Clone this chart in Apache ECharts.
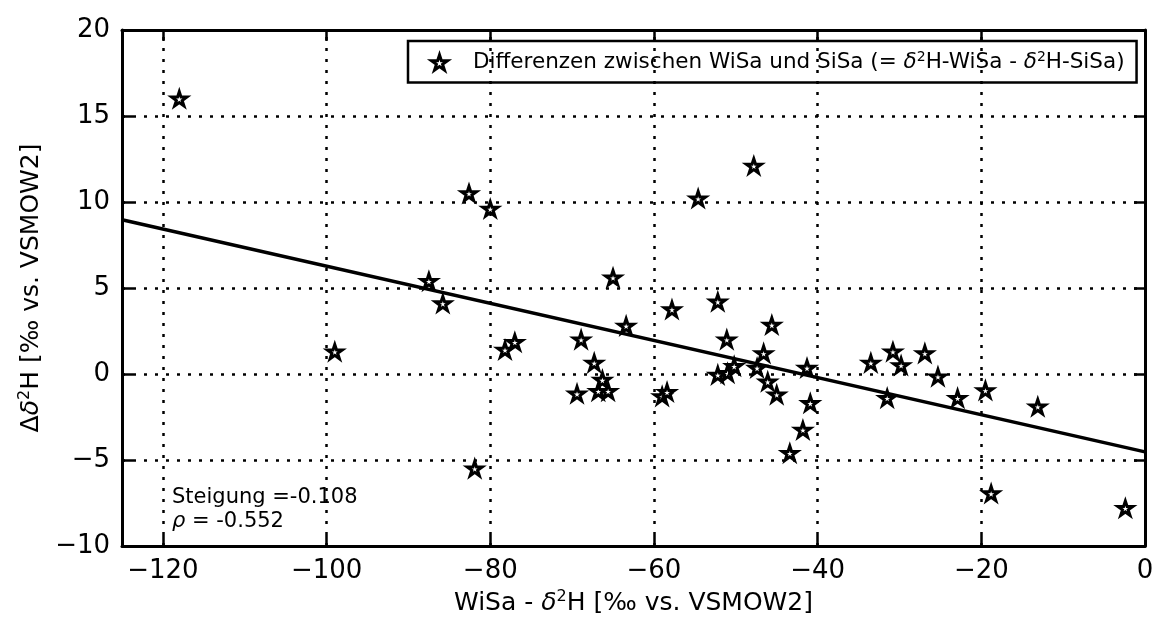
<!DOCTYPE html>
<html>
<head>
<meta charset="utf-8">
<script src="https://cdn.jsdelivr.net/npm/echarts@6/dist/echarts.min.js"></script>
<style>html,body{margin:0;padding:0;background:#fff;}#c{width:1161px;height:622px;}</style>
</head>
<body>
<div id="c"></div>
<script>
// ---- data ----
const wisaD2H = [-118.0,-99.0,-87.5,-85.8,-82.6,-81.9,-80.0,-78.2,-77.0,-69.4,-68.9,-67.3,-66.8,-66.3,-65.6,-65.0,-63.4,-59.0,-58.4,-57.8,-54.6,-52.2,-52.2,-51.1,-51.0,-50.2,-47.8,-47.4,-46.6,-46.1,-45.6,-45.0,-43.4,-41.8,-41.3,-40.9,-33.5,-31.5,-30.8,-29.8,-26.9,-25.3,-22.9,-19.5,-18.8,-13.1,-2.4];
const deltaD2H = [16.0,1.3,5.4,4.1,10.5,-5.5,9.6,1.4,1.85,-1.15,2.0,0.65,-1.0,-0.35,-1.0,5.6,2.8,-1.3,-1.05,3.75,10.2,4.2,-0.05,2.0,0.05,0.45,12.1,0.35,1.2,-0.45,2.85,-1.2,-4.6,-3.25,0.35,-1.7,0.65,-1.4,1.3,0.5,1.2,-0.15,-1.4,-0.95,-6.95,-1.9,-7.8];
const xTicks = [-120,-100,-80,-60,-40,-20,0];
const yTicks = [-10,-5,0,5,10,15,20];
const xRange = [-125, 0];
const yRange = [-10, 20];
const fitSlope = -0.108;
const fitIntercept = -4.53;
const rho = -0.552;
const seriesName = 'Differenzen';

const starPath = 'path://M50 0 L38.77 34.55 L2.45 34.55 L31.83 55.9 L20.61 90.45 L50 69.1 L79.39 90.45 L68.17 55.9 L97.55 34.55 L61.23 34.55 Z';
const FONT = 'DejaVu Sans';
const minus = v => String(v).replace('-', '\u2212');

const points = wisaD2H.map((x, i) => [x, deltaD2H[i]]);
const fitLine = xRange.map(x => [x, fitSlope * x + fitIntercept]);

const richCommon = (fs) => ({
  i: {fontStyle: 'italic', fontSize: fs, fontFamily: FONT, color: '#000'},
  sup: {fontSize: Math.round(fs * 0.65), fontFamily: FONT, color: '#000', padding: [0, 0, Math.round(fs * 0.5), 0]},
  n: {fontSize: fs, fontFamily: FONT, color: '#000'}
});

const chart = echarts.init(document.getElementById('c'), null, {renderer: 'canvas'});
chart.setOption({
  animation: false,
  backgroundColor: '#fff',
  grid: {left: 122, right: 16, top: 30, bottom: 76, containLabel: false},
  title: {
    text: 'Steigung =' + fitSlope.toFixed(3) + '\n{i|ρ} = ' + rho.toFixed(3),
    left: 172, top: 486, padding: 0,
    textStyle: {fontSize: 21, fontWeight: 'normal', fontFamily: FONT, color: '#000', lineHeight: 24,
      rich: {i: {fontStyle: 'italic', fontSize: 21, fontFamily: FONT, lineHeight: 24}}}
  },
  legend: {
    left: 408, top: 41,
    padding: [9, 12, 9, 22],
    borderColor: '#000', borderWidth: 2.5, backgroundColor: '#fff',
    itemWidth: 16, itemHeight: 16, itemGap: 10,
    data: [{name: seriesName, icon: starPath}],
    itemStyle: {color: '#fff', borderColor: '#000', borderWidth: 3},
    formatter: () => '   Differenzen zwischen WiSa und SiSa (= {i|δ}{sup|2}H-WiSa - {i|δ}{sup|2}H-SiSa)',
    textStyle: {fontSize: 21.5, fontFamily: FONT, color: '#000', rich: richCommon(21.5)}
  },
  xAxis: [{
    type: 'value', min: xRange[0], max: xRange[1], position: 'bottom',
    name: 'WiSa - {i|δ}{sup|2}H [‰ vs. VSMOW2]', nameLocation: 'middle', nameGap: 26,
    nameTextStyle: {fontSize: 25, fontFamily: FONT, color: '#000', rich: richCommon(25)},
    axisLine: {show: true, onZero: false, lineStyle: {color: '#000', width: 3}},
    axisTick: {show: true, inside: true, length: 11, customValues: xTicks, lineStyle: {color: '#000', width: 2.5}},
    axisLabel: {show: true, customValues: xTicks, margin: 12, fontSize: 26, fontFamily: FONT, color: '#000', formatter: minus},
    splitLine: {show: false}
  }, {
    type: 'value', min: xRange[0], max: xRange[1], position: 'top',
    axisLine: {show: true, onZero: false, lineStyle: {color: '#000', width: 3}},
    axisTick: {show: true, inside: true, length: 11, customValues: xTicks, lineStyle: {color: '#000', width: 2.5}},
    axisLabel: {show: false}, splitLine: {show: false}
  }],
  yAxis: [{
    type: 'value', min: yRange[0], max: yRange[1], interval: 5, position: 'left',
    name: 'Δ{i|δ}{sup|2}H [‰ vs. VSMOW2]', nameLocation: 'middle', nameGap: 70, nameRotate: 90,
    nameTextStyle: {fontSize: 25, fontFamily: FONT, color: '#000', rich: richCommon(25)},
    axisLine: {show: true, onZero: false, lineStyle: {color: '#000', width: 3}},
    axisTick: {show: true, inside: true, length: 11, lineStyle: {color: '#000', width: 2.5}},
    axisLabel: {show: true, margin: 12, fontSize: 26, fontFamily: FONT, color: '#000', formatter: minus},
    splitLine: {show: true, lineStyle: {color: '#000', width: 2.5, type: [3, 8]}}
  }, {
    type: 'value', min: yRange[0], max: yRange[1], interval: 5, position: 'right',
    axisLine: {show: true, onZero: false, lineStyle: {color: '#000', width: 3}},
    axisTick: {show: true, inside: true, length: 11, lineStyle: {color: '#000', width: 2.5}},
    axisLabel: {show: false}, splitLine: {show: false}
  }],
  series: [{
    name: 'fit', type: 'line', data: fitLine, showSymbol: false, symbol: 'none', z: 3,
    lineStyle: {color: '#000', width: 3.5}, silent: true,
    markLine: {
      silent: true, symbol: 'none', label: {show: false},
      lineStyle: {color: '#000', width: 2.5, type: [3, 8]},
      data: xTicks.filter(v => v > xRange[0] && v < xRange[1]).map(v => ({xAxis: v}))
    }
  }, {
    name: seriesName, type: 'scatter', data: points, z: 5,
    symbol: starPath, symbolSize: 15, symbolKeepAspect: true,
    itemStyle: {color: '#fff', borderColor: '#000', borderWidth: 3, opacity: 1}
  }]
});
</script>
</body>
</html>
